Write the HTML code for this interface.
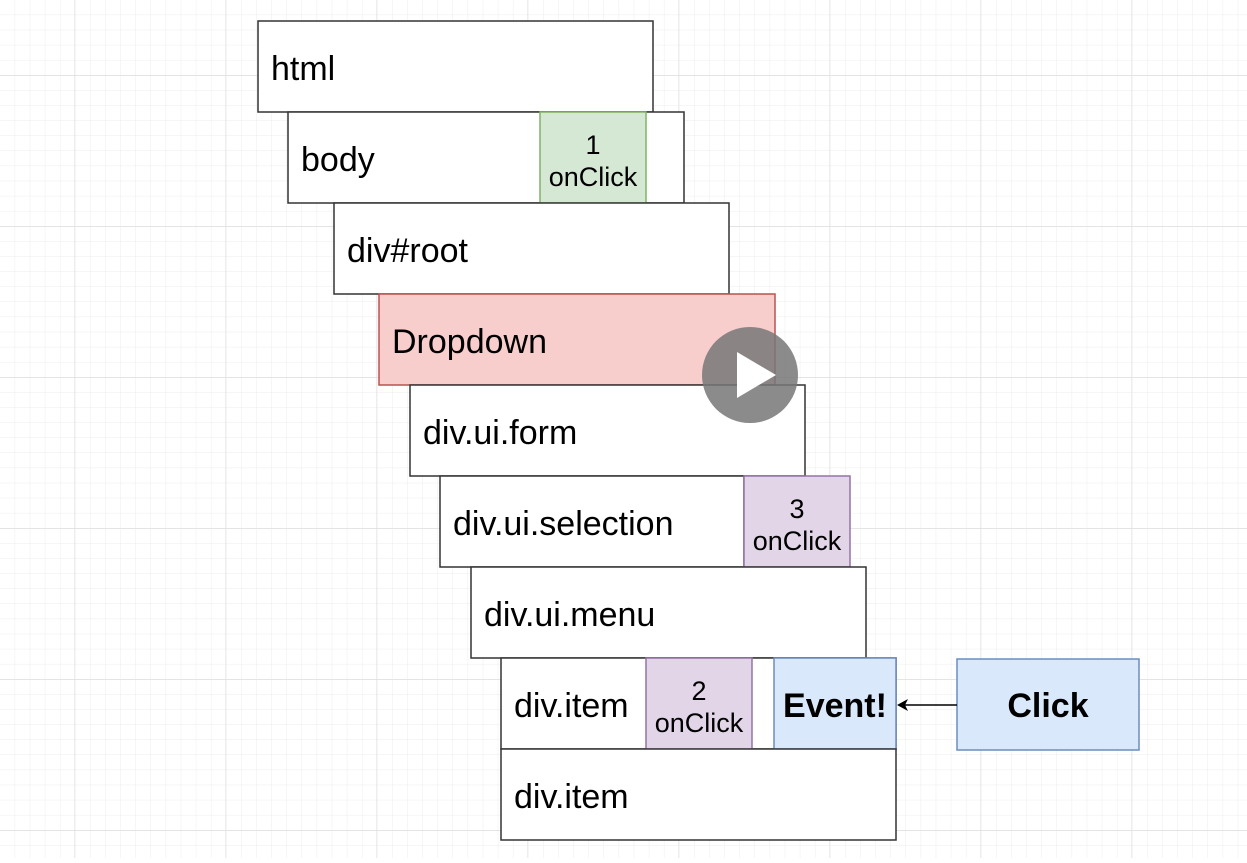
<!DOCTYPE html>
<html><head><style>
body{margin:0;width:1247px;height:858px;overflow:hidden;background:#fff;font-family:"Liberation Sans",sans-serif;}
</style></head><body>
<svg width="1247" height="858" xmlns="http://www.w3.org/2000/svg" font-family="Liberation Sans, sans-serif">
<defs>
<pattern id="g" width="15.1" height="15.1" patternUnits="userSpaceOnUse" x="0" y="0">
<path d="M15.1 0V15.1M0 15.1H15.1" stroke="#ececec" stroke-width="1" fill="none"/>
</pattern>
<pattern id="G" width="151" height="151" patternUnits="userSpaceOnUse" x="-76" y="-75">
<path d="M151 0V151M0 151H151" stroke="#dcdcdc" stroke-width="1" fill="none"/>
</pattern>
</defs>
<rect width="1247" height="858" fill="url(#g)"/>
<rect width="1247" height="858" fill="url(#G)"/>
<g stroke="#333" stroke-width="1.5" fill="#fff">
<rect x="258" y="21" width="395" height="91"/>
<rect x="288" y="112" width="396" height="91"/>
<rect x="540" y="112" width="106" height="91" fill="#d5e8d4" stroke="#82b366"/>
<rect x="334" y="203" width="395" height="91"/>
<rect x="379" y="294" width="396" height="91" fill="#f8cecc" stroke="#b85450"/>
<rect x="410" y="385" width="395" height="91"/>
<rect x="440" y="476" width="304" height="91"/>
<rect x="744" y="476" width="106" height="91" fill="#e1d5e7" stroke="#9673a6"/>
<rect x="471" y="567" width="395" height="91"/>
<rect x="501" y="658" width="395" height="91"/>
<rect x="646" y="658" width="106" height="91" fill="#e1d5e7" stroke="#9673a6"/>
<rect x="774" y="658" width="122" height="91" fill="#dae8fc" stroke="#6c8ebf"/>
<rect x="501" y="749" width="395" height="91"/>
<rect x="957" y="659" width="182" height="91" fill="#dae8fc" stroke="#6c8ebf"/>
</g>
<g fill="#000" font-size="34">
<text x="271" y="80">html</text>
<text x="301" y="171">body</text>
<text x="347" y="262">div#root</text>
<text x="392" y="353">Dropdown</text>
<text x="423" y="444">div.ui.form</text>
<text x="453" y="535">div.ui.selection</text>
<text x="484" y="626">div.ui.menu</text>
<text x="514" y="717">div.item</text>
<text x="514" y="808">div.item</text>
</g>
<g fill="#000" font-size="27" text-anchor="middle">
<text x="593" y="154">1</text><text x="593" y="186">onClick</text>
<text x="797" y="518">3</text><text x="797" y="550">onClick</text>
<text x="699" y="700">2</text><text x="699" y="732">onClick</text>
</g>
<g fill="#000" font-size="34" font-weight="bold" text-anchor="middle">
<text x="835" y="717">Event!</text>
<text x="1048" y="717">Click</text>
</g>
<line x1="957" y1="705" x2="904" y2="705" stroke="#000" stroke-width="1.5"/>
<path d="M897 705L908 699L905 705L908 711Z" fill="#000"/>
<circle cx="750" cy="375" r="48" fill="#777" fill-opacity="0.85"/>
<path d="M737 352L737 398L776 375Z" fill="#fff"/>
</svg>
</body></html>
